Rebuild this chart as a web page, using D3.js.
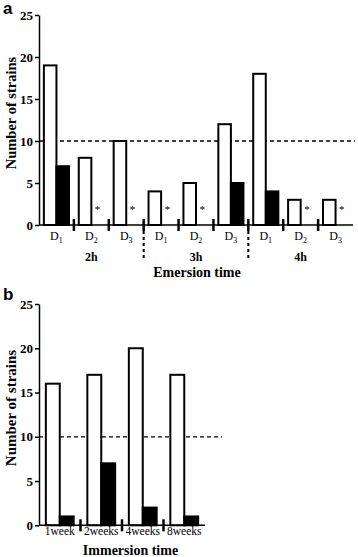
<!DOCTYPE html>
<html>
<head>
<meta charset="utf-8">
<script src="https://cdn.jsdelivr.net/npm/d3@7"></script>
<style>
  body { margin: 0; background: #fff; }
  svg { display: block; }
</style>
</head>
<body>
<svg id="chart" width="358" height="557"></svg>
<script>
// panel a: emersion time, three days per time point
const emersionTimes = ['2h', '3h', '4h'];
const days = ['1', '2', '3'];
const emersionOpen = [19, 8, 10, 4, 5, 12, 18, 3, 3];
const emersionFilled = [7, 0, 0, 0, 0, 5, 4, 0, 0];

// panel b: immersion time
const immersionTimes = ['1week', '2weeks', '4weeks', '8weeks'];
const immersionOpen = [16, 17, 20, 17];
const immersionFilled = [1, 7, 2, 1];

const yTicks = [0, 5, 10, 15, 20, 25];
const cutoff = 10;

const serif = '"Liberation Serif", "Times New Roman", serif';
const svg = d3.select('#chart');

function drawPanel(p) {
  const g = svg.append('g');

  const y = d3.scaleLinear().domain([0, 25]).range([p.bottom, p.top]);
  const x = d3.scaleBand()
    .domain(p.cats)
    .range([p.left, p.right])
    .paddingInner(p.pad)
    .paddingOuter(p.pad / 2);
  const inner = d3.scaleBand().domain(['open', 'filled']).range([0, x.bandwidth()]);

  const rows = p.cats.map((c, i) => ({ cat: c, open: p.open[i], filled: p.filled[i] }));

  // cutoff line
  g.append('line')
    .attr('x1', p.left)
    .attr('x2', p.refRight)
    .attr('y1', y(cutoff))
    .attr('y2', y(cutoff))
    .attr('stroke', '#000')
    .attr('stroke-width', 1.3)
    .attr('stroke-dasharray', '4,3');

  // bars
  g.selectAll('.bar-open')
    .data(rows)
    .join('rect')
    .attr('class', 'bar-open')
    .attr('x', d => x(d.cat) + inner('open'))
    .attr('y', d => y(d.open))
    .attr('width', inner.bandwidth())
    .attr('height', d => y(0) - y(d.open))
    .attr('fill', '#fff')
    .attr('stroke', '#000')
    .attr('stroke-width', 2);

  g.selectAll('.bar-filled')
    .data(rows.filter(d => d.filled > 0))
    .join('rect')
    .attr('class', 'bar-filled')
    .attr('x', d => x(d.cat) + inner('filled'))
    .attr('y', d => y(d.filled))
    .attr('width', inner.bandwidth())
    .attr('height', d => y(0) - y(d.filled))
    .attr('fill', '#000')
    .attr('stroke', '#000')
    .attr('stroke-width', 2);

  // star where the filled bar is zero
  g.selectAll('.star')
    .data(rows.filter(d => d.filled === 0))
    .join('text')
    .attr('class', 'star')
    .attr('x', d => x(d.cat) + inner('filled') + inner.bandwidth() / 2)
    .attr('y', y(0) - 12)
    .attr('text-anchor', 'middle')
    .style('font-family', serif)
    .style('font-size', '11px')
    .text('*');

  // y axis
  g.append('g')
    .attr('transform', `translate(${p.left},0)`)
    .call(d3.axisLeft(y).tickValues(yTicks).tickSize(4).tickSizeOuter(0).tickPadding(2))
    .call(a => a.select('.domain').attr('stroke-width', 1.5))
    .call(a => a.selectAll('.tick line').attr('stroke-width', 1.5))
    .call(a => a.selectAll('.tick text')
      .style('font-family', serif)
      .style('font-weight', 'bold')
      .style('font-size', '13px'));

  // x axis
  const xAxis = g.append('g')
    .attr('transform', `translate(0,${y(0)})`)
    .call(d3.axisBottom(x).tickSize(0).tickSizeOuter(0).tickPadding(p.labelPad).tickFormat(p.fmt))
    .call(a => a.select('.domain')
      .attr('d', `M${p.left},0H${p.right}`)
      .attr('stroke-width', 1.5))
    .call(a => a.selectAll('.tick text')
      .style('font-family', serif)
      .style('font-size', p.labelSize));

  if (p.subscript) {
    xAxis.selectAll('.tick text').each(function (d) {
      const t = d3.select(this).text(null);
      t.append('tspan').text('D');
      t.append('tspan').attr('dy', 3).style('font-size', '8px').text(d.split('-')[1]);
    });
  }

  // group separators
  const half = x.step() * p.pad / 2;
  const seps = p.cats.slice(1).map((c, i) => ({ x: x(c) - half, i: i + 1 }));
  g.selectAll('.sep')
    .data(seps)
    .join('line')
    .attr('class', 'sep')
    .attr('x1', d => d.x)
    .attr('x2', d => d.x)
    .attr('y1', y(0) - 6)
    .attr('y2', y(0) + 6)
    .attr('stroke', '#000')
    .attr('stroke-width', 2.5);

  g.selectAll('.sep-long')
    .data(seps.filter(d => p.longSeps.includes(d.i)))
    .join('line')
    .attr('class', 'sep-long')
    .attr('x1', d => d.x)
    .attr('x2', d => d.x)
    .attr('y1', y(0) + 6)
    .attr('y2', y(0) + 36)
    .attr('stroke', '#000')
    .attr('stroke-width', 2)
    .attr('stroke-dasharray', '3,3');

  // group labels (panel a)
  if (p.groups) {
    g.selectAll('.group-label')
      .data(p.groups)
      .join('text')
      .attr('class', 'group-label')
      .attr('x', d => x(d + '-2') + x.bandwidth() / 2)
      .attr('y', y(0) + 36)
      .attr('text-anchor', 'middle')
      .style('font-family', serif)
      .style('font-weight', 'bold')
      .style('font-size', '12px')
      .text(d => d);
  }

  // axis titles
  g.append('text')
    .attr('x', (p.left + p.refRight) / 2)
    .attr('y', p.titleY)
    .attr('text-anchor', 'middle')
    .style('font-family', serif)
    .style('font-weight', 'bold')
    .style('font-size', '14px')
    .text(p.title);

  g.append('text')
    .attr('transform', 'rotate(-90)')
    .attr('x', -p.yTitleCenter)
    .attr('y', 16)
    .attr('text-anchor', 'middle')
    .style('font-family', serif)
    .style('font-weight', 'bold')
    .style('font-size', p.yTitleSize)
    .text('Number of strains');

  // panel letter
  g.append('text')
    .attr('x', 3)
    .attr('y', p.letterY)
    .style('font-family', '"Liberation Sans", Arial, sans-serif')
    .style('font-weight', 'bold')
    .style('font-size', '17px')
    .text(p.letter);
}

const catsA = emersionTimes.flatMap(t => days.map(d => t + '-' + d));

drawPanel({
  letter: 'a', letterY: 14,
  cats: catsA, open: emersionOpen, filled: emersionFilled,
  top: 15, bottom: 225, left: 39, right: 353, refRight: 355, pad: 0.28,
  fmt: d => d, subscript: true, labelPad: 6, labelSize: '12px',
  groups: emersionTimes, longSeps: [3, 6],
  title: 'Emersion time', titleY: 277,
  yTitleCenter: 113, yTitleSize: '14.5px'
});

drawPanel({
  letter: 'b', letterY: 300,
  cats: immersionTimes, open: immersionOpen, filled: immersionFilled,
  top: 304, bottom: 525.3, left: 39, right: 205, refRight: 222, pad: 0.33,
  fmt: d => d, subscript: false, labelPad: 2, labelSize: '11.5px',
  groups: null, longSeps: [],
  title: 'Immersion time', titleY: 555,
  yTitleCenter: 408, yTitleSize: '15px'
});
</script>
</body>
</html>
